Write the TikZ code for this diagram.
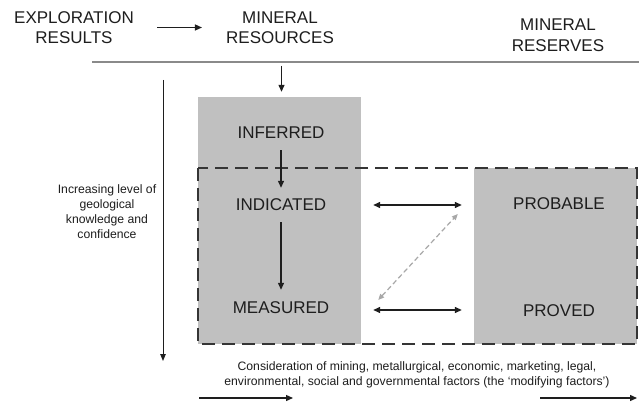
\documentclass[tikz,border=0pt]{standalone}
\usepackage{fontspec}
\setmainfont{Liberation Sans}
\usetikzlibrary{arrows.meta,calc}
\definecolor{boxgray}{HTML}{C0C0C0}
\definecolor{ink}{HTML}{1E1E1E}
\definecolor{rulegray}{HTML}{8A8A8A}
\definecolor{dashgray}{HTML}{A8A8A8}
\tikzset{
  bigtxt/.style={inner sep=0pt, align=center, text=ink, font=\fontsize{17}{20.5}\selectfont},
  lbl/.style={inner sep=0pt, text=ink, text height=12pt, text depth=0pt, font=\fontsize{17}{20.5}\selectfont},
  smalltxt/.style={inner sep=0pt, align=center, text=ink, font=\fontsize{12.2}{15}\selectfont},
  graybox/.style={fill=boxgray, draw=none, inner sep=0pt},
  arr/.style={draw=ink, line width=1.3pt, -{Triangle[length=7pt,width=6pt]}},
  dbl/.style={draw=ink, line width=1.3pt, {Triangle[length=7pt,width=6pt]}-{Triangle[length=7pt,width=6pt]}},
  gdash/.style={draw=dashgray, line width=1.2pt, dash pattern=on 5pt off 3pt, {Triangle[length=6pt,width=5pt]}-{Triangle[length=6pt,width=5pt]}},
  thinarr/.style={draw=ink, line width=0.9pt, -{Triangle[length=7pt,width=5.5pt]}},
  dashframe/.style={draw=ink!90, line width=2pt, dash pattern=on 13pt off 7pt},
}
\begin{document}
\begin{tikzpicture}[x=1pt,y=-1pt]
\useasboundingbox[fill=white] (0,0) rectangle (639,403);

% header labels
\node[bigtxt] (expl) at (74,27.5) {EXPLORATION\\RESULTS};
\node[bigtxt] (res) at (280,27.5) {MINERAL\\RESOURCES};
\node[bigtxt] (resv) at (558,35) {MINERAL\\RESERVES};
\draw[arr, shorten <=23pt, shorten >=24pt] (expl) -- (res);

% rule
\coordinate (hl1) at (92,62);
\coordinate (hl2) at (639,62);
\draw[draw=rulegray, line width=2pt] (hl1) -- (hl2);

% gray boxes
\node[graybox, minimum width=163pt, minimum height=247pt] (resbox) at (279.5,220.5) {};
\node[graybox, minimum width=163pt, minimum height=176pt] (probbox) at (555.5,256) {};

% dashed frame
\coordinate (df1) at (198,168);
\coordinate (df2) at (637,344);
\draw[dashframe] (df1) rectangle (df2);

\draw[arr, shorten <=4pt, shorten >=5pt] ([xshift=2pt]resbox.north |- hl1) -- ([xshift=2pt]resbox.north);

% category labels
\node[lbl] (inf) at (281,133) {INFERRED};
\node[lbl] (ind) at (281,205) {INDICATED};
\node[lbl] (meas) at (281,307) {MEASURED};
\node[lbl] (prob) at (559,204) {PROBABLE};
\node[lbl] (prov) at (559,310) {PROVED};

\draw[arr, shorten <=11pt, shorten >=11pt] (inf) -- (ind);
\draw[arr, shorten <=11pt, shorten >=11pt] (ind) -- (meas);

\draw[dbl, shorten <=12pt, shorten >=12pt] (ind -| resbox.east) -- (ind -| probbox.west);
\draw[dbl, shorten <=12pt, shorten >=12pt] (prov -| resbox.east) -- (prov -| probbox.west);
\draw[gdash] ($(meas -| resbox.east)+(17,-7)$) -- ($(ind -| probbox.west)+(-16,9)$);

% left axis
\coordinate (va1) at (163,80);
\coordinate (va2) at (163,361);
\draw[thinarr] (va1) -- (va2);
\node[smalltxt] (axislbl) at (107,212) {Increasing level of\\geological\\knowledge and\\confidence};

% bottom
\node[smalltxt] (modf) at (417,374.5) {Consideration of mining, metallurgical, economic, marketing, legal,\\environmental, social and governmental factors (the ‘modifying factors’)};
\coordinate (ba1) at (199,398);
\coordinate (ba2) at (293,398);
\coordinate (bb1) at (540,398);
\coordinate (bb2) at (637,398);
\draw[arr] (ba1) -- (ba2);
\draw[arr] (bb1) -- (bb2);
\end{tikzpicture}
\end{document}
